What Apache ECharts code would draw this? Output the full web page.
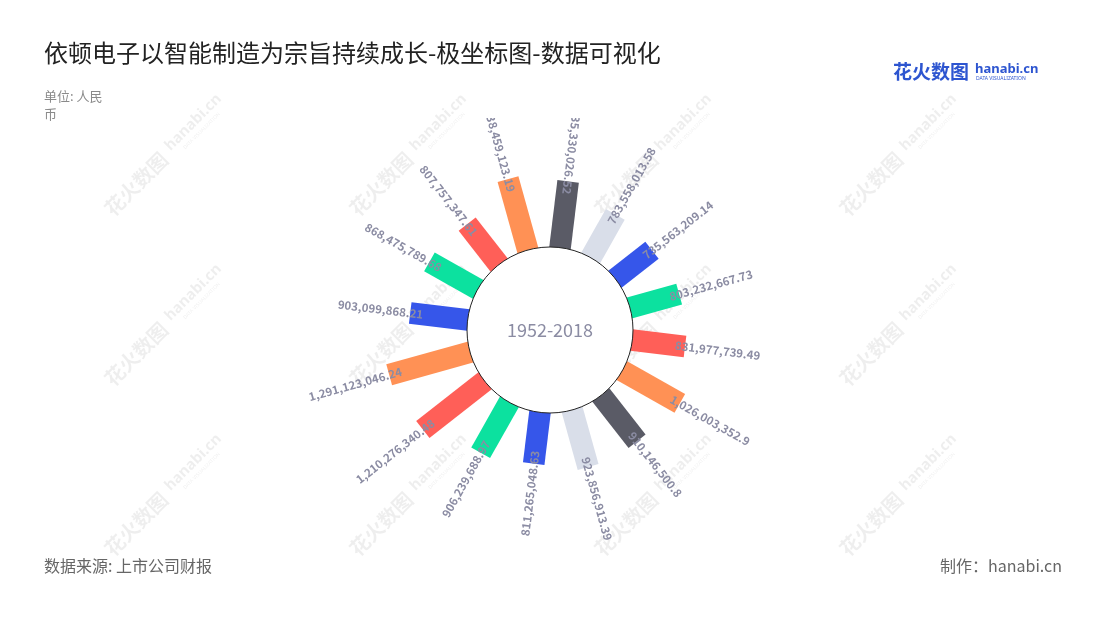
<!DOCTYPE html>
<html><head><meta charset="utf-8">
<script src="https://cdn.jsdelivr.net/npm/echarts@6/dist/echarts.min.js"></script>
<style>
html,body{margin:0;padding:0;background:#fff;width:1100px;height:620px;overflow:hidden}
#bg{position:absolute;left:0;top:0;width:1100px;height:620px}
#main{position:absolute;left:0;top:118px;width:1100px;height:440px}
</style></head><body>
<div id="bg"></div><div id="main"></div>
<script>
// ---- data ----
const categories = ['2003','2004','2005','2006','2007','2008','2009','2010','2011','2012','2013','2014','2015','2016','2017','2018'];
const values = [903099868.21, 868475789.68, 807757347.61, 1138459123.19, 1035330026.52, 783558013.58, 735563209.14, 803232667.73, 831977739.49, 1026003352.9, 910146500.8, 923856913.39, 811265048.63, 906239688.97, 1210276340.48, 1291123046.24];
const periodLabel = '1952-2018';
const titleText = '依顿电子以智能制造为宗旨持续成长-极坐标图-数据可视化';
const unitText = '单位: 人民币';
const sourceText = '数据来源: 上市公司财报';
const creditText = '制作：hanabi.cn';
const logoCn = '花火数图';
const logoEn = 'hanabi.cn';
const logoSub = 'DATA VISUALIZATION';

// ---- style ----
const palette = ['#3656ea','#0ce19f','#ff5f58','#ff9155','#5a5b66','#d9dee9'];
const labelColor = '#8b8ca3';
const CJK = '"Noto Sans CJK SC", "Noto Sans", sans-serif';

function fmt(v) {
  const parts = String(v).split('.');
  parts[0] = parts[0].replace(/\B(?=(\d{3})+(?!\d))/g, ',');
  return parts.join('.');
}

// ---- background (titles, watermark, footer) ----
const bg = echarts.init(document.getElementById('bg'), null, {renderer: 'canvas'});
const wm = [];
[150, 320, 490].forEach(function (y) {
  [170, 415, 660, 905].forEach(function (x) {
    wm.push({
      type: 'group', x: x, y: y, rotation: Math.PI / 4, silent: true, z: 0,
      children: [
        {type: 'text', x: -48, y: 0, style: {text: logoCn, fontSize: 20, fontWeight: 'bold', fill: 'rgba(0,0,0,0.065)', fontFamily: CJK, align: 'center', verticalAlign: 'middle'}},
        {type: 'text', x: 36, y: -3, style: {text: logoEn, fontSize: 15, fontWeight: 'bold', fill: 'rgba(0,0,0,0.065)', fontFamily: 'Noto Sans', align: 'center', verticalAlign: 'middle'}},
        {type: 'text', x: 36, y: 9, style: {text: logoSub, fontSize: 5, fill: 'rgba(0,0,0,0.065)', fontFamily: 'Noto Sans', align: 'center', verticalAlign: 'middle'}}
      ]
    });
  });
});
bg.setOption({
  animation: false,
  title: [
    {text: titleText, left: 44, top: 41, padding: 0, textStyle: {fontSize: 24, fontWeight: 'normal', color: '#222', fontFamily: CJK}},
    {text: unitText, left: 44, top: 87, padding: 0, textStyle: {fontSize: 13, fontWeight: 'normal', color: '#8a8a8a', fontFamily: CJK, width: 64, overflow: 'break', lineHeight: 18}},
    {text: sourceText, left: 44, top: 558, padding: 0, textStyle: {fontSize: 16, fontWeight: 'normal', color: '#666', fontFamily: CJK}},
    {text: creditText, right: 38, top: 558, padding: 0, textStyle: {fontSize: 16, fontWeight: 'normal', color: '#666', fontFamily: CJK}}
  ],
  graphic: wm.concat([
    {type: 'text', x: 893, y: 72, z: 10, style: {text: logoCn, fontSize: 19, fontWeight: 'bold', fill: '#2d55d0', fontFamily: CJK, verticalAlign: 'middle'}},
    {type: 'text', x: 975, y: 69, z: 10, style: {text: logoEn, fontSize: 13, fontWeight: 'bold', fill: '#2d55d0', fontFamily: 'Noto Sans', verticalAlign: 'middle'}},
    {type: 'text', x: 976, y: 79, z: 10, style: {text: logoSub, fontSize: 5, fill: '#2d55d0', fontFamily: 'Noto Sans', verticalAlign: 'middle'}}
  ])
});

// ---- polar chart ----
const chart = echarts.init(document.getElementById('main'), null, {renderer: 'canvas'});
const HALF_W = 10.8;

function renderItem(params, api) {
  const i = api.value(1);
  const v = api.value(0);
  const cs = params.coordSys;
  const s = api.coord([0, i]);
  const e = api.coord([v, i]);
  const dx = e[0] - cs.cx, dy = e[1] - cs.cy;
  const len = Math.sqrt(dx * dx + dy * dy);
  const ux = dx / len, uy = dy / len;
  const nx = -uy, ny = ux;
  const color = palette[i % palette.length];
  const theta = Math.atan2(-uy, ux);
  const deg = theta * 180 / Math.PI;
  const outward = deg > -90 && deg < 70;
  const back = outward ? 10 : 13;
  const ax = e[0] - ux * back, ay = e[1] - uy * back;
  return {
    type: 'group',
    children: [
      {
        type: 'polygon',
        shape: {points: [
          [s[0] + nx * HALF_W, s[1] + ny * HALF_W],
          [e[0] + nx * HALF_W, e[1] + ny * HALF_W],
          [e[0] - nx * HALF_W, e[1] - ny * HALF_W],
          [s[0] - nx * HALF_W, s[1] - ny * HALF_W]
        ]},
        style: {fill: color}
      },
      {
        type: 'text',
        x: ax, y: ay,
        rotation: outward ? theta : theta + Math.PI,
        z2: 10,
        style: {
          text: fmt(values[i]),
          fill: labelColor,
          fontSize: 11.5,
          fontWeight: 'bold',
          fontFamily: '"Noto Sans CJK SC", sans-serif',
          align: outward ? 'left' : 'right',
          verticalAlign: 'middle'
        }
      }
    ]
  };
}

chart.setOption({
  animation: false,
  polar: {center: [550, 212], radius: [80, 181]},
  angleAxis: {type: 'category', data: categories, startAngle: 184.3, clockwise: true, show: false},
  radiusAxis: {type: 'value', min: 0, max: 1500000000, show: false},
  series: [{
    type: 'custom',
    coordinateSystem: 'polar',
    data: values.map(function (v, i) { return [v, i]; }),
    encode: {radius: 0, angle: 1},
    renderItem: renderItem,
    z: 2
  }],
  graphic: [
    {type: 'circle', z: 100, shape: {cx: 550, cy: 212, r: 83}, style: {fill: '#fff', stroke: '#222', lineWidth: 1}},
    {type: 'text', z: 101, x: 550, y: 212, style: {text: periodLabel, fontSize: 18, fill: '#8b8ca3', fontFamily: '"Noto Sans CJK SC", sans-serif', align: 'center', verticalAlign: 'middle'}}
  ]
});
</script>
</body></html>
